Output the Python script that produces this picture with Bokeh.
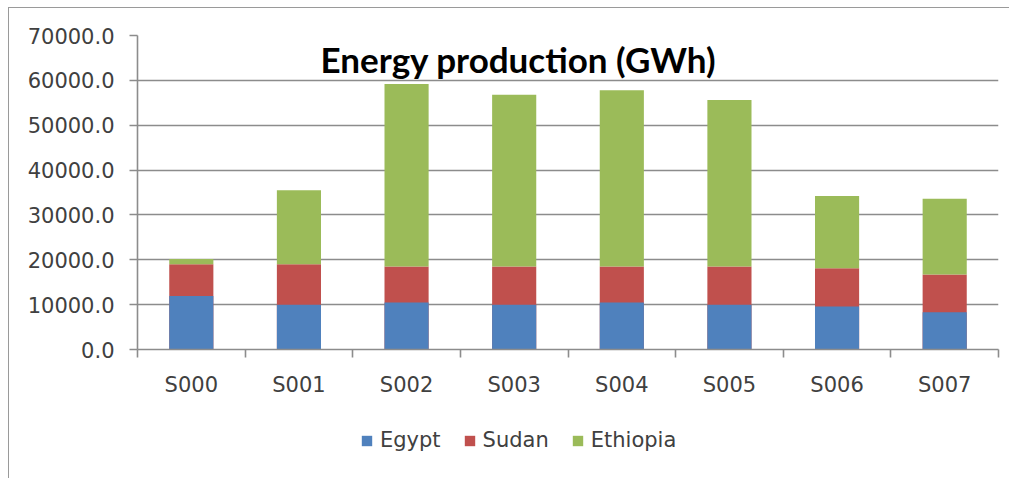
from bokeh.plotting import figure
from bokeh.layouts import column
from bokeh.models import (ColumnDataSource, Range1d, FixedTicker, NumeralTickFormatter,
                          Legend, LegendItem, Label)
from bokeh.embed import file_html
from bokeh.resources import INLINE

categories = ["S000", "S001", "S002", "S003", "S004", "S005", "S006", "S007"]
egypt = [11900, 10000, 10500, 10000, 10500, 10000, 9600, 8300]
sudan = [7100, 9000, 8000, 8500, 8000, 8500, 8500, 8400]
ethiopia = [1200, 16500, 40700, 38300, 39300, 37100, 16100, 16900]
series_names = ["Egypt", "Sudan", "Ethiopia"]
colors = ["#4f81bd", "#c0504d", "#9bbb59"]
y_ticks = [0, 10000, 20000, 30000, 40000, 50000, 60000, 70000]

xs = [i + 0.5 for i in range(len(categories))]
b1 = [e + s for e, s in zip(egypt, sudan)]
b2 = [v + t for v, t in zip(b1, ethiopia)]
src = ColumnDataSource(dict(x=xs, egypt=egypt, sudan=sudan, ethiopia=ethiopia,
                            b0=[0] * len(xs), b1=b1, b2=b2))

p = figure(width=1000, height=392, output_backend="svg", toolbar_location=None,
           x_range=Range1d(0, len(categories)), y_range=Range1d(0, 70000),
           min_border_left=128, min_border_right=11, min_border_top=27, min_border_bottom=51)
p.outline_line_color = None
p.background_fill_color = "white"
p.border_fill_color = "white"

grey = "#8c8c8c"

p.vbar(x="x", width=0.41, bottom="b0", top="b1", source=src, fill_color=colors[1], line_color=None)
p.vbar(x="x", width=0.41, bottom="b0", top="egypt", source=src, fill_color=colors[0], line_color=None)
p.vbar(x="x", width=0.41, bottom="b1", top="b2", source=src, fill_color=colors[2], line_color=None)

p.xgrid.visible = False
p.ygrid.ticker = FixedTicker(ticks=y_ticks)
p.ygrid.grid_line_color = grey
p.ygrid.grid_line_width = 1.6

font = "DejaVu Sans"
p.yaxis.ticker = FixedTicker(ticks=y_ticks)
p.yaxis.formatter = NumeralTickFormatter(format="0.0")
p.yaxis.major_label_text_font = font
p.yaxis.major_label_text_font_size = "21px"
p.yaxis.major_label_text_color = "#404040"
p.yaxis.major_label_standoff = 15
p.yaxis.major_tick_out = 8
p.yaxis.major_tick_in = 0
p.yaxis.minor_tick_line_color = None
p.yaxis.axis_line_color = grey
p.yaxis.axis_line_width = 1.6
p.yaxis.major_tick_line_color = grey
p.yaxis.major_tick_line_width = 1.6

p.xaxis.ticker = FixedTicker(ticks=xs, minor_ticks=list(range(len(categories) + 1)))
p.xaxis.major_label_overrides = {x: c for x, c in zip(xs, categories)}
p.xaxis.major_label_text_font = font
p.xaxis.major_label_text_font_size = "21px"
p.xaxis.major_label_text_color = "#404040"
p.xaxis.major_label_standoff = 15
p.xaxis.major_tick_line_color = None
p.xaxis.major_tick_out = 8
p.xaxis.minor_tick_out = 8
p.xaxis.minor_tick_in = 0
p.xaxis.minor_tick_line_color = grey
p.xaxis.minor_tick_line_width = 1.6
p.xaxis.axis_line_color = grey
p.xaxis.axis_line_width = 1.6

title = Label(x=3.54, y=64700, text="Energy production (GWh)", text_align="center",
              text_baseline="alphabetic", text_font="Lato", text_font_style="bold",
              text_font_size="35px", text_color="black")
p.add_layout(title)

# legend strip below the chart (invisible zero-height bars carry the legend swatches)
lf = figure(width=1000, height=78, output_backend="svg", toolbar_location=None,
            x_axis_location=None, y_axis_location=None, min_border=0,
            x_range=Range1d(0, 1), y_range=Range1d(0, 1))
lf.outline_line_color = None
lf.grid.visible = False
lf.border_fill_color = "white"
items = []
for name, col in zip(series_names, colors):
    r = lf.vbar(x=[0.5], top=[0], bottom=[0], width=0.01, fill_color=col, line_color=None)
    items.append(LegendItem(label=name, renderers=[r]))
legend = Legend(items=items, orientation="horizontal", location=(223, 26),
                glyph_width=13, glyph_height=13, label_standoff=7, spacing=22,
                padding=0, margin=0, border_line_color=None, background_fill_alpha=0,
                label_text_font=font, label_text_font_size="21px", label_text_color="#404040")
lf.add_layout(legend, "center")

layout = column(p, lf, spacing=0)
layout.styles = {"margin-left": "8px", "margin-top": "7px",
                 "border-left": "1px solid #9a9a9a", "border-top": "1px solid #9a9a9a"}

open("out.html", "w").write(file_html(layout, INLINE))
